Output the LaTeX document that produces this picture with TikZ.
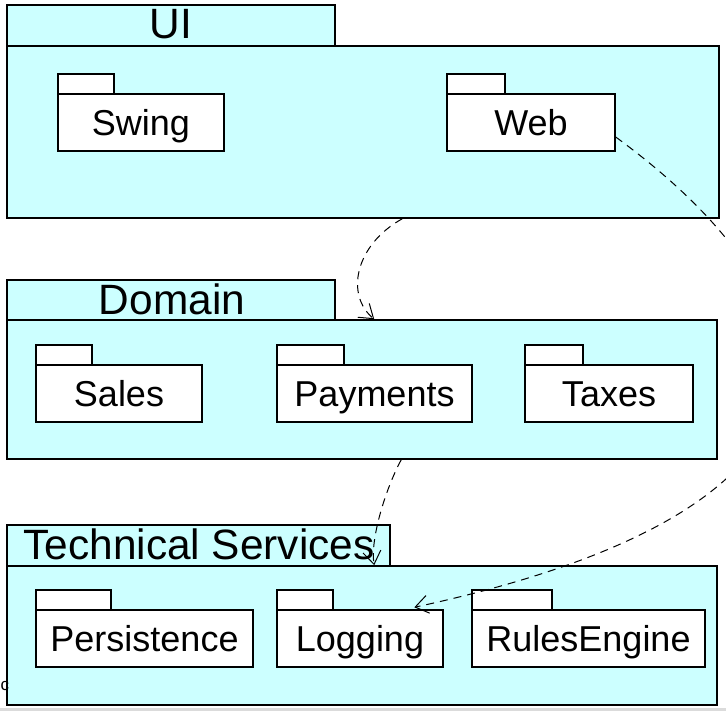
\documentclass[tikz,border=0pt]{standalone}
\usepackage{fontspec}
\setmainfont{Liberation Sans}
\usetikzlibrary{fit,arrows.meta}
\definecolor{pkgcyan}{HTML}{CCFFFF}
\tikzset{
  outertab/.style={draw=black, line width=0.8pt, fill=pkgcyan, inner sep=0pt},
  outerbody/.style={draw=black, line width=0.8pt, fill=pkgcyan, inner sep=0pt},
  outerlabel/.style={inner sep=0pt, font=\fontsize{21.2}{21.2}\selectfont, text height=15.2pt, text depth=0pt},
  innertab/.style={draw=black, line width=0.7pt, fill=white, inner sep=0pt},
  innerbody/.style={draw=black, line width=0.7pt, fill=white, inner sep=0pt},
  innerlabel/.style={inner sep=0pt, font=\fontsize{18}{18}\selectfont, text height=12.9pt, text depth=0pt},
  dep/.style={draw=black, dash pattern=on 4pt off 3pt, line width=0.5pt,
    -{Straight Barb[length=6.5pt,width=9pt]}}
}
\begin{document}
\begin{tikzpicture}[x=0.5pt, y=-0.5pt]
\useasboundingbox (0,0) rectangle (726,711);
\clip (0,0) rectangle (726,711);
\fill[white] (0,0) rectangle (726,711);
\fill[black!14] (0,708) rectangle (726,711);

% UI
\node[outertab, fit={(7,5)(335,46)}] (uit) {};
\node[outerlabel] (uil) at (171,23) {UI};
\node[outerbody, fit={(7,46)(719,218)}] (uib) {};
\node[innertab, fit={(58,74)(114,94)}] (swingt) {};
\node[innerbody, fit={(58,94)(224,151)}] (swingb) {};
\node[innerlabel] (swingl) at (swingb.center) {Swing};
\node[innertab, fit={(447,74)(505,94)}] (webt) {};
\node[innerbody, fit={(447,94)(615,151)}] (webb) {};
\node[innerlabel] (webl) at (webb.center) {Web};

% Domain
\node[outertab, fit={(7,280)(335,320)}] (domt) {};
\node[outerlabel] (doml) at (172,299) {Domain};
\node[outerbody, fit={(7,320)(717,459)}] (domb) {};
\node[innertab, fit={(36,345)(92,365)}] (salest) {};
\node[innerbody, fit={(36,365)(202,422)}] (salesb) {};
\node[innerlabel] (salesl) at (salesb.center) {Sales};
\node[innertab, fit={(277,345)(344,365)}] (payt) {};
\node[innerbody, fit={(277,365)(472,422)}] (payb) {};
\node[innerlabel] (payl) at (payb.center) {Payments};
\node[innertab, fit={(525,345)(583,365)}] (taxt) {};
\node[innerbody, fit={(525,365)(693,422)}] (taxb) {};
\node[innerlabel] (taxl) at (taxb.center) {Taxes};

% Technical Services
\node[outertab, fit={(7,525)(390,566)}] (tst) {};
\node[outerlabel] (tsl) at (199,544) {Technical Services};
\node[outerbody, fit={(7,566)(717,705)}] (tsb) {};
\node[innertab, fit={(36,590)(111,610)}] (perst) {};
\node[innerbody, fit={(36,610)(253,667)}] (persb) {};
\node[innerlabel] (persl) at (persb.center) {Persistence};
\node[innertab, fit={(277,590)(333,610)}] (logt) {};
\node[innerbody, fit={(277,610)(443,667)}] (logb) {};
\node[innerlabel] (logl) at (logb.center) {Logging};
\node[innertab, fit={(472,590)(552,610)}] (rulet) {};
\node[innerbody, fit={(472,610)(705,667)}] (ruleb) {};
\node[innerlabel] (rulel) at (ruleb.center) {RulesEngine};

\node[anchor=west, inner sep=0pt, font=\fontsize{8.5}{8.5}\selectfont] (cmark) at (0.3,686) {c};

% dependencies
\draw[dep] ([xshift=198pt]uib.south west) .. controls (355,245) and (345,295) .. ([xshift=184pt]domb.north west);
\draw[dep] ([xshift=197.5pt]domb.south west) .. controls (385,490) and (370,540) .. ([xshift=184pt]tsb.north west);
\draw[dep] ([yshift=-7.25pt]webb.east) .. controls (825,290) and (910,500) .. ([xshift=69pt,yshift=1pt]logb.north west);
\end{tikzpicture}
\end{document}
